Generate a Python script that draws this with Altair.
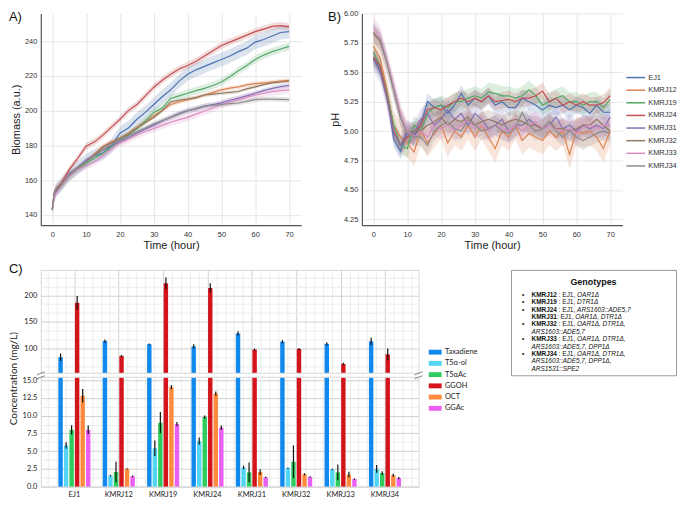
import altair as alt
import pandas as pd

FONT = "Liberation Sans"
CFONT = "Lato"

# ---------------- data ----------------
strains = ["EJ1", "KMRJ12", "KMRJ19", "KMRJ24", "KMRJ31", "KMRJ32", "KMRJ33", "KMRJ34"]
strain_colors = ["#4c72b0", "#dd8452", "#55a868", "#c44e52", "#8172b3", "#937860", "#da8bc3", "#8c8c8c"]

# Panel A: biomass (a.u.)
bio_time = [0, 0.5, 1, 2.5, 5, 7.5, 10, 12.5, 15, 17.5, 20, 22.5, 25, 27.5, 30, 32.5, 35,
            37.5, 40, 42.5, 45, 47.5, 50, 52.5, 55, 57.5, 60, 62.5, 65, 67.5, 70]
bio_EJ1 = [143, 150, 154, 157, 163, 167, 171, 174, 175.5, 180, 187, 190, 195, 199, 203.5, 208, 212,
           217, 221, 223.5, 225.5, 227.5, 229.5, 231.5, 234, 236, 239.5, 241, 243, 245, 245.5]
bio_KMRJ12 = [143, 150, 153, 157, 163, 167, 170.5, 175, 179.5, 182, 184, 187, 190.5, 194, 197, 200, 203.5,
              205, 206.3, 207.5, 209, 210.5, 212, 213, 213.7, 214.8, 215.6, 216, 216.5, 217, 217.5]
bio_KMRJ19 = [143, 150, 153, 156, 162, 166, 169.5, 172.5, 175.5, 179, 183, 186, 189.5, 194, 199, 201.5, 207,
              208.5, 210, 211.5, 212.8, 214.5, 216.5, 219.5, 223, 226, 229.5, 232, 234, 235.5, 237]
bio_KMRJ24 = [143, 152, 155, 158, 166, 172.5, 179.5, 182, 186, 190.5, 195, 200, 203.5, 208.5, 213.5, 217.5, 221,
              224, 226, 228.5, 231.5, 234.5, 237.5, 239.5, 241.5, 243.5, 245.5, 247, 248.5, 249, 248.3]
bio_KMRJ31 = [143, 150, 153, 157, 164, 167, 171.5, 174.5, 177.5, 180, 182.2, 184.5, 187, 189.5, 191.5, 194, 196.2,
              198.5, 200, 201, 202.6, 203.5, 204.5, 206, 207.2, 208.5, 210, 211.5, 212.8, 213.8, 214.6]
bio_KMRJ32 = [143, 151, 154, 157, 163, 167, 170.5, 174.5, 179, 181.5, 184, 186.5, 190, 193, 196, 200, 205,
              206, 206.7, 207.5, 209, 209.5, 210, 210.5, 211, 212.5, 213.7, 215, 216, 216.5, 217]
bio_KMRJ33 = [143, 149, 152, 156, 162, 166, 168.3, 170.5, 174, 178, 181.3, 183.5, 186, 188, 189.6, 191.5, 193.3,
              194.8, 196.1, 198, 199.8, 201.5, 203.5, 205, 206.3, 207.8, 209, 210, 210.9, 211.5, 212]
bio_KMRJ34 = [143, 152, 155, 158, 163, 167, 170.6, 174, 177.6, 180.5, 183.1, 185.5, 187.8, 190, 192.4, 194.3, 196.1,
              198, 199.8, 201.3, 202.6, 203.1, 203.5, 204, 204.4, 205.3, 206.3, 206.6, 206.7, 206.5, 206.3]
bio_ci = [4.0, 1.2, 2.2, 2.0, 1.5, 1.0, 2.2, 1.5]

# Panel B: pH
ph_time = [0, 2, 4, 6, 8, 10, 12, 14, 16, 18, 20, 22, 24, 26, 28, 30, 32, 34,
           36, 38, 40, 42, 44, 46, 48, 50, 52, 54, 56, 58, 60, 62, 64, 66, 68, 70]
ph_EJ1 = [5.62, 5.52, 5.32, 4.93, 4.83, 4.98, 4.95, 5.05, 5.25, 5.20, 5.22, 5.15, 5.22, 5.32, 5.22, 5.28, 5.25, 5.30,
          5.22, 5.25, 5.20, 5.20, 5.28, 5.25, 5.22, 5.18, 5.22, 5.20, 5.22, 5.18, 5.22, 5.20, 5.15, 5.22, 5.16, 5.16]
ph_KMRJ12 = [5.72, 5.62, 5.35, 5.05, 4.95, 4.90, 4.82, 5.00, 4.90, 4.98, 5.05, 4.90, 5.00, 4.95, 5.05, 4.95, 5.05, 4.95,
             4.85, 5.00, 4.95, 5.05, 4.92, 4.98, 4.95, 4.92, 5.00, 4.95, 5.00, 4.80, 5.00, 4.98, 5.00, 4.95, 4.85, 5.00]
ph_KMRJ19 = [5.67, 5.55, 5.32, 5.05, 4.88, 4.85, 5.05, 5.00, 5.15, 5.20, 5.22, 5.20, 5.25, 5.25, 5.28, 5.30, 5.28, 5.33,
             5.32, 5.30, 5.30, 5.28, 5.30, 5.35, 5.30, 5.22, 5.25, 5.28, 5.30, 5.25, 5.25, 5.22, 5.25, 5.25, 5.20, 5.27]
ph_KMRJ24 = [5.63, 5.55, 5.30, 5.00, 4.88, 4.95, 4.98, 5.05, 5.18, 5.20, 5.18, 5.22, 5.25, 5.28, 5.25, 5.28, 5.25, 5.30,
             5.25, 5.26, 5.27, 5.25, 5.28, 5.28, 5.30, 5.34, 5.25, 5.28, 5.22, 5.25, 5.22, 5.25, 5.22, 5.22, 5.24, 5.30]
ph_KMRJ31 = [5.61, 5.50, 5.28, 4.98, 4.88, 5.00, 4.98, 5.10, 5.15, 5.05, 5.10, 5.18, 5.10, 5.15, 5.05, 5.15, 5.10, 5.02,
             5.05, 5.10, 5.00, 5.05, 5.05, 5.10, 5.05, 5.02, 5.05, 5.12, 5.02, 5.05, 5.00, 5.05, 5.02, 5.05, 5.02, 5.12]
ph_KMRJ32 = [5.83, 5.76, 5.58, 5.35, 5.12, 4.98, 5.00, 5.00, 5.05, 5.08, 5.12, 5.05, 5.10, 5.08, 5.12, 5.05, 5.08, 5.10,
             5.08, 5.05, 5.08, 5.10, 5.08, 5.05, 5.05, 5.02, 5.08, 5.02, 5.02, 5.00, 5.02, 5.05, 5.05, 5.10, 5.05, 5.00]
ph_KMRJ33 = [5.88, 5.80, 5.60, 5.38, 5.15, 5.00, 4.95, 5.00, 4.95, 5.05, 5.02, 5.05, 5.00, 5.05, 5.10, 5.02, 5.05, 5.00,
             5.05, 5.02, 5.00, 5.05, 5.00, 5.05, 5.08, 5.02, 5.05, 5.02, 5.00, 5.02, 4.98, 5.03, 5.05, 5.02, 5.05, 5.05]
ph_KMRJ34 = [5.84, 5.78, 5.58, 5.35, 5.12, 4.98, 4.95, 4.95, 4.88, 5.00, 5.05, 5.08, 5.02, 5.00, 5.10, 5.05, 5.00, 5.02,
             5.05, 5.00, 4.98, 5.02, 5.16, 5.05, 5.00, 5.02, 5.08, 5.00, 4.95, 5.00, 4.95, 4.92, 4.95, 4.98, 5.00, 4.98]
ph_ci = [0.07, 0.12, 0.08, 0.07, 0.09, 0.08, 0.09, 0.08]

# Panel C: concentrations (mg/L)
compounds = ["Taxadiene", "T5α-ol", "T5αAc", "GGOH", "OCT", "GGAc"]
compound_colors = ["#1188ee", "#52d6f4", "#2dcc5c", "#d4141b", "#ff8a3d", "#e95ff0"]
conc_taxadiene = [83.3, 113.8, 107.8, 103.6, 128.2, 112.6, 108.4, 113.2]
err_taxadiene = [7, 3, 1.5, 4, 4, 3, 3, 7]
conc_t5aol = [5.8, 1.55, 5.4, 6.4, 2.7, 2.6, 2.4, 2.5]
err_t5aol = [0.45, 0.1, 1.1, 0.5, 0.25, 0.1, 0.1, 0.55]
conc_t5aac = [8.0, 2.05, 9.0, 9.8, 2.0, 3.5, 2.0, 1.9]
err_t5aac = [0.65, 1.45, 1.5, 0.2, 1.4, 2.3, 1.1, 0.25]
conc_ggoh = [186, 85.7, 222.7, 213.8, 97.7, 98.9, 70.7, 88.7]
err_ggoh = [13, 2, 11, 9, 2, 2, 2, 11]
conc_oct = [12.8, 2.5, 14.0, 13.1, 2.05, 1.73, 1.69, 1.6]
err_oct = [0.95, 0.1, 0.3, 0.3, 0.4, 0.15, 0.4, 0.2]
conc_ggac = [8.0, 1.45, 8.8, 8.3, 1.3, 1.37, 1.05, 1.19]
err_ggac = [0.6, 0.1, 0.3, 0.3, 0.1, 0.1, 0.1, 0.15]

# Genotype box text
geno_title = "Genotypes"
geno_bullet = [True, True, True, False, True, False, True, False, True, False, False]
geno_name = ["KMRJ12", "KMRJ19", "KMRJ24", "KMRJ31", "KMRJ32", "", "KMRJ33", "", "KMRJ34", "", ""]
geno_plain = [" : EJ1, ", " : EJ1, ", " : EJ1, ", ": EJ1, ", " : EJ1, ", "", " : EJ1, ", "", " : EJ1, ", "", ""]
geno_italic = ["OAR1Δ", "DTR1Δ", "ARS1603::ADE5,7", "OAR1Δ, DTR1Δ", "OAR1Δ, DTR1Δ,", "ARS1603::ADE5,7",
               "OAR1Δ, DTR1Δ,", "ARS1603::ADE5,7, DPP1Δ", "OAR1Δ, DTR1Δ,", "ARS1603::ADE5,7, DPP1Δ,",
               "ARS1531::SPE2"]

# ---------------- helpers ----------------
def long_ts(time, series, ci):
    rows = []
    for s, vals, c in zip(strains, series, ci, strict=True):
        for t, v in zip(time, vals, strict=True):
            rows.append({"time": t, "strain": s, "band_strain": s, "value": v, "lo": v - c, "hi": v + c})
    return pd.DataFrame(rows)


bio_df = long_ts(bio_time, [bio_EJ1, bio_KMRJ12, bio_KMRJ19, bio_KMRJ24, bio_KMRJ31, bio_KMRJ32,
                            bio_KMRJ33, bio_KMRJ34], bio_ci)
ph_df = long_ts(ph_time, [ph_EJ1, ph_KMRJ12, ph_KMRJ19, ph_KMRJ24, ph_KMRJ31, ph_KMRJ32,
                          ph_KMRJ33, ph_KMRJ34], ph_ci)

GRID = "#e3e3e3"
PW, PH_ = 262, 213
one = pd.DataFrame({"k": [0]})


def label_layer(text, dx, dy):
    return alt.Chart(pd.DataFrame({"t": [text]})).mark_text(
        font=FONT, fontSize=13, align="left", baseline="top", color="#111"
    ).encode(text="t:N", x=alt.value(dx), y=alt.value(dy))


def time_panel(df, ydom, yvals, yfmt, ytitle, label, label_dx, legend):
    cs = alt.Scale(domain=strains, range=strain_colors)
    xs = alt.Scale(domain=[-3.4, 73.6], nice=False, zero=False)
    ys = alt.Scale(domain=ydom, nice=False, zero=False)
    xax = alt.Axis(values=[0, 10, 20, 30, 40, 50, 60, 70], title="Time (hour)", grid=True,
                   gridColor=GRID, gridWidth=0.9, domainColor="#555", domainWidth=1.2, ticks=False,
                   labelFont=FONT, labelFontSize=7.5, labelColor="#333", labelPadding=5,
                   titleFont=FONT, titleFontSize=11, titleFontWeight="normal", titleColor="#222",
                   titlePadding=2)
    yax = alt.Axis(values=yvals, format=yfmt, title=ytitle, grid=True, gridColor=GRID, gridWidth=0.9,
                   domainColor="#555", domainWidth=1.2, ticks=False, labelFont=FONT, labelFontSize=7.5,
                   labelColor="#333", labelPadding=4, titleFont=FONT, titleFontSize=11,
                   titleFontWeight="normal", titleColor="#222", titlePadding=3)
    band = alt.Chart(df).mark_area(opacity=0.2).encode(
        x=alt.X("time:Q", scale=xs, axis=xax),
        y=alt.Y("lo:Q", scale=ys, axis=yax),
        y2="hi:Q",
        color=alt.Color("band_strain:N", scale=cs, legend=None),
    )
    line = alt.Chart(df).mark_line(strokeWidth=1.2).encode(
        x=alt.X("time:Q", scale=xs, axis=xax),
        y=alt.Y("value:Q", scale=ys, axis=yax),
        color=alt.Color("strain:N", scale=cs, legend=legend),
    )
    return alt.layer(band, line, label_layer(label, label_dx, -2)).resolve_scale(
        color="independent").properties(width=PW, height=PH_)


panelA = time_panel(bio_df, [134, 256], [140, 160, 180, 200, 220, 240], "d", "Biomass (a.u.)", "A)", -32, None)
legB = alt.Legend(orient="none", legendX=PW + 9, legendY=60, title=None, symbolType="M-2.7,0H2.7",
                  symbolSize=49, symbolStrokeWidth=1.5, labelFont=FONT, labelFontSize=7.5,
                  labelColor="#333", labelOffset=8, rowPadding=4.7, padding=0)
panelB = time_panel(ph_df, [4.2, 6.0], [4.25, 4.5, 4.75, 5.0, 5.25, 5.5, 5.75, 6.0], ".2f", "pH", "B)", -34, legB)

# ---- panel C (broken y axis: two y scales sharing one view) ----
conc = [conc_taxadiene, conc_t5aol, conc_t5aac, conc_ggoh, conc_oct, conc_ggac]
errs = [err_taxadiene, err_t5aol, err_t5aac, err_ggoh, err_oct, err_ggac]
rows = []
for ci_, comp in enumerate(compounds):
    for si, s in enumerate(strains):
        v = conc[ci_][si]
        e = errs[ci_][si]
        rows.append({"strain": s, "compound": comp, "value": v, "lo": v - e, "hi": v + e})
cdf = pd.DataFrame(rows)

CW = 380
CH_TOP, GAP, CH_BOT = 104, 4, 110
CH = CH_TOP + GAP + CH_BOT
TOP_MIN, TOP_MAX = 53, 248
BOT_MAX = 15.4
PI, PO = 0.25, 0.382
MAJ = "#d2d2d2"
MIN = "#ececec"
FRAME = "#d8d8d8"

A0 = PO + (1 - PI) / 2
gx_vals = [round(-0.6 + 0.2 * i, 2) for i in range(42)]
vgrid = alt.Chart(one).mark_point(opacity=0).encode(
    x=alt.X("k:Q", scale=alt.Scale(domain=[-A0, 8 - PI + 2 * PO - A0], nice=False, zero=False),
            axis=alt.Axis(orient="top", values=gx_vals, grid=True,
                          gridColor={"condition": {"test": "abs(datum.value - round(datum.value)) < 0.01",
                                                   "value": MAJ}, "value": MIN},
                          labels=False, ticks=False, domain=False, title=None, minExtent=0, maxExtent=0))
)

legC = alt.Legend(orient="none", legendX=CW + 13, legendY=CH_TOP - 25, title=None,
                  symbolType="M-1.85,-0.7H1.85V0.7H-1.85Z", symbolSize=49, symbolStrokeWidth=0,
                  labelFont=CFONT, labelFontSize=7.5, labelColor="#222", labelOffset=6,
                  rowPadding=2.3, padding=0)


def yaxis_c(vals, major, fmt, **kw):
    test = f"abs(datum.value/{major} - round(datum.value/{major})) < 0.01"
    return alt.Axis(orient="left", values=vals, labelExpr=f"{test} ? format(datum.value, '{fmt}') : ''",
                    grid=True, gridColor={"condition": {"test": test, "value": MAJ}, "value": MIN},
                    ticks=False, domain=False, labelFont=CFONT, labelFontSize=7.5, labelColor="#222",
                    labelPadding=4, **kw)


top_vals = [round(50 / 3 * i, 3) for i in range(4, 15)]
bot_vals = [1.25 * i for i in range(13)]


def cx():
    return alt.Scale(domain=strains, paddingInner=PI, paddingOuter=PO)


def cxo():
    return alt.Scale(domain=compounds, paddingInner=0.2, paddingOuter=0.11)


def ytop():
    return alt.Scale(domain=[TOP_MIN, TOP_MAX], range=[CH_TOP, 0], nice=False, zero=False, clamp=True)


def ybot():
    return alt.Scale(domain=[0, BOT_MAX], range=[CH, CH_TOP + GAP], nice=False, zero=False, clamp=True)


ccs = alt.Scale(domain=compounds, range=compound_colors)
xaxC = alt.Axis(orient="bottom", labelFont=CFONT, labelFontSize=7.5, labelColor="#222", ticks=False,
                domain=False, grid=False, labelPadding=4, title=None, labelAngle=0)

bars_top = alt.Chart(cdf).transform_filter(f"datum.value > {TOP_MIN}").mark_bar().encode(
    x=alt.X("strain:N", scale=cx(), axis=None),
    xOffset=alt.XOffset("compound:N", scale=cxo()),
    y=alt.Y("value:Q", scale=ytop(), axis=yaxis_c(top_vals, 50, "d", title=None)),
    y2=alt.datum(TOP_MIN),
    color=alt.Color("compound:N", scale=ccs, legend=legC),
)
err_top = alt.Chart(cdf).transform_filter(f"datum.value > {TOP_MIN}").mark_rule(
    color="#111", strokeWidth=1.2).encode(
    x=alt.X("strain:N", scale=cx(), axis=None),
    xOffset=alt.XOffset("compound:N", scale=cxo()),
    y=alt.Y("lo:Q", scale=ytop(), axis=None),
    y2="hi:Q",
)
bars_bot = alt.Chart(cdf).mark_bar().encode(
    x=alt.X("strain:N", scale=cx(), axis=xaxC),
    xOffset=alt.XOffset("compound:N", scale=cxo()),
    y=alt.Y("value:Q", scale=ybot(),
            axis=yaxis_c(bot_vals, 2.5, ".1f", title="Concentration (mg/L)", titleFont=CFONT,
                         titleFontSize=10, titleFontWeight="normal", titleColor="#222", titleX=-27,
                         titleY=CH / 2, titleAngle=-90, titleAlign="center", titleBaseline="middle")),
    y2=alt.datum(0),
    color=alt.Color("compound:N", scale=ccs, legend=legC),
)
err_bot = alt.Chart(cdf).mark_rule(color="#111", strokeWidth=1.2).encode(
    x=alt.X("strain:N", scale=cx(), axis=None),
    xOffset=alt.XOffset("compound:N", scale=cxo()),
    y=alt.Y("lo:Q", scale=ybot(), axis=None),
    y2="hi:Q",
)

gap_rect = alt.Chart(one).mark_rect(color="white").encode(
    x=alt.value(-1), x2=alt.value(CW + 1), y=alt.value(CH_TOP), y2=alt.value(CH_TOP + GAP))


def hline(y0):
    return alt.Chart(one).mark_rule(color=FRAME, strokeWidth=1).encode(
        x=alt.value(0), x2=alt.value(CW), y=alt.value(y0))


def brk(x0, y0):
    return alt.Chart(one).mark_rule(color="#666", strokeWidth=0.8).encode(
        x=alt.value(x0 - 4), x2=alt.value(x0 + 4), y=alt.value(y0 + 1.5), y2=alt.value(y0 - 1.5))


panelC = alt.layer(
    vgrid, bars_top, err_top, bars_bot, err_bot,
    gap_rect, hline(CH_TOP), hline(CH_TOP + GAP),
    brk(0, CH_TOP), brk(0, CH_TOP + GAP), brk(CW, CH_TOP), brk(CW, CH_TOP + GAP),
    label_layer("C)", -32, -7),
).resolve_scale(x="independent", y="independent", xOffset="independent").properties(
    width=CW, height=CH, view=alt.ViewBackground(stroke=FRAME, strokeWidth=1))

# ---- genotype box ----
GW, GH = 166, 106
FS = 6.5
W_REG = {" ": 278, ":": 278, ",": 278, "A": 667, "D": 722, "E": 667, "J": 500, "K": 667, "M": 833,
         "O": 778, "P": 667, "R": 722, "S": 667, "T": 611, "Δ": 668}
W_BOLD = {" ": 278, ":": 333, "K": 722, "M": 833, "R": 722, "J": 556}


def tw(s, bold=False):
    tot = 0
    for ch in s:
        if ch.isdigit():
            tot += 556
        elif bold:
            tot += W_BOLD.get(ch, W_REG.get(ch, 600))
        else:
            tot += W_REG.get(ch, 600)
    return tot * FS / 1000


X0, XB, Y0, DY = 20.6, 11, 25.3, 7.4
bold_rows, plain_rows, ital_rows, bul_rows = [], [], [], []
for i in range(len(geno_italic)):
    y = Y0 + DY * i
    x = X0
    if geno_bullet[i]:
        bul_rows.append({"x": XB, "y": y, "text": "•"})
    if geno_name[i]:
        bold_rows.append({"x": x, "y": y, "text": geno_name[i]})
        x += tw(geno_name[i], True)
    if geno_plain[i]:
        lead = len(geno_plain[i]) - len(geno_plain[i].lstrip())
        plain_rows.append({"x": x + tw(geno_plain[i][:lead]), "y": y, "text": geno_plain[i].strip()})
        x += tw(geno_plain[i])
    ital_rows.append({"x": x, "y": y, "text": geno_italic[i]})

gxs = alt.Scale(domain=[0, GW], nice=False, zero=False)
gys = alt.Scale(domain=[0, GH], nice=False, zero=False, reverse=True)


def gtext(rows_, **kw):
    return alt.Chart(pd.DataFrame(rows_)).mark_text(baseline="middle", font=FONT, color="#111", **kw).encode(
        x=alt.X("x:Q", scale=gxs, axis=None), y=alt.Y("y:Q", scale=gys, axis=None), text="text:N")


panelG = alt.layer(
    gtext([{"x": 83, "y": 11.7, "text": geno_title}], align="center", fontSize=9, fontWeight="bold"),
    gtext(bul_rows, align="left", fontSize=FS),
    gtext(bold_rows, align="left", fontSize=FS, fontWeight="bold"),
    gtext(plain_rows, align="left", fontSize=FS),
    gtext(ital_rows, align="left", fontSize=FS, fontStyle="italic"),
).properties(width=GW, height=GH, view=alt.ViewBackground(stroke="#9a9a9a", strokeWidth=1))

row1 = alt.hconcat(panelA, panelB, spacing=27).resolve_scale(
    color="independent").resolve_legend(color="independent")
row2 = alt.hconcat(panelC, panelG, spacing=31).resolve_scale(
    color="independent").resolve_legend(color="independent")

chart = alt.vconcat(row1, row2, spacing=11).resolve_scale(
    color="independent").resolve_legend(color="independent").properties(padding=0).configure_view(stroke=None)

chart.save("out.html", embed_options={"renderer": "svg", "actions": False})
